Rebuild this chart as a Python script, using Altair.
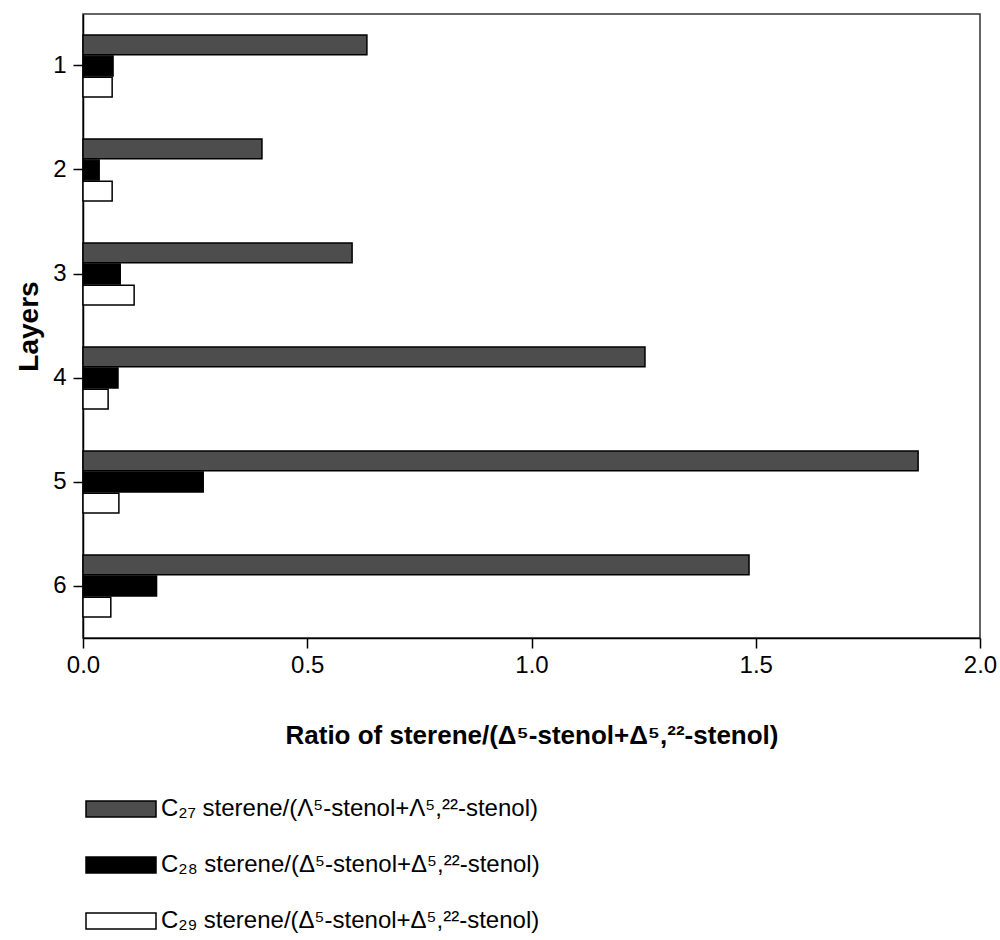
import altair as alt
import pandas as pd

# Layers on the vertical axis, top to bottom
layers = ["1", "2", "3", "4", "5", "6"]

# Series names (legend labels)
series = [
    "C₂₇ sterene/(Λ⁵-stenol+Λ⁵,²²-stenol)",
    "C₂₈ sterene/(Δ⁵-stenol+Δ⁵,²²-stenol)",
    "C₂₉ sterene/(Δ⁵-stenol+Δ⁵,²²-stenol)",
]

# Ratio values per layer
c27 = [0.633, 0.399, 0.600, 1.253, 1.862, 1.485]
c28 = [0.067, 0.036, 0.083, 0.078, 0.268, 0.164]
c29 = [0.065, 0.065, 0.114, 0.056, 0.080, 0.062]

fills = ["#4d4d4d", "#000000", "#ffffff"]
x_ticks = [0.0, 0.5, 1.0, 1.5, 2.0]

rows = []
for name, vals in zip(series, [c27, c28, c29]):
    for layer, v in zip(layers, vals):
        rows.append({"layer": layer, "series": name, "value": v})
df = pd.DataFrame(rows)

FONT = "Liberation Sans"

bars = alt.Chart(df).mark_bar(stroke="black", strokeWidth=1.5, cornerRadius=0).encode(
    x=alt.X(
        "value:Q",
        scale=alt.Scale(domain=[0, 2], nice=False, zero=True),
        axis=alt.Axis(
            values=x_ticks,
            format=".1f",
            grid=False,
            title="Ratio of sterene/(Δ⁵-stenol+Δ⁵,²²-stenol)",
            titleFontSize=26,
            titleFontWeight="bold",
            titlePadding=45,
            labelFontSize=24,
            labelPadding=5,
            labelFlush=False,
            tickSize=10,
        ),
    ),
    y=alt.Y(
        "layer:N",
        sort=layers,
        scale=alt.Scale(paddingInner=0.404, paddingOuter=0.202),
        axis=alt.Axis(
            title="Layers",
            titleFontSize=28,
            titleFontWeight="bold",
            titlePadding=9,
            labelFontSize=24,
            labelPadding=7,
            labelAngle=0,
            tickSize=10,
        ),
    ),
    yOffset=alt.YOffset("series:N", sort=series, scale=alt.Scale(paddingInner=0.06)),
    fill=alt.Fill(
        "series:N",
        sort=series,
        scale=alt.Scale(domain=series, range=fills),
        legend=alt.Legend(
            title=None,
            orient="none",
            legendX=2,
            legendY=759,
            direction="vertical",
            symbolType="M-1,-0.23H1V0.23H-1Z",
            symbolSize=4900,
            symbolStrokeColor="black",
            symbolStrokeWidth=1.5,
            labelFontSize=24,
            labelOffset=4,
            labelLimit=700,
            rowPadding=8,
            padding=0,
        ),
    ),
).properties(width=897, height=624)

chart = bars.properties(
    autosize=alt.AutoSizeParams(type="none"),
    padding={"left": 83, "top": 14, "right": 20, "bottom": 302},
).configure_view(
    stroke="#333333", strokeWidth=1.5
).configure_axis(
    labelFont=FONT,
    titleFont=FONT,
    labelColor="black",
    titleColor="black",
    domainColor="black",
    tickColor="black",
    domainWidth=1.5,
    tickWidth=1.5,
).configure_legend(
    labelFont=FONT,
    labelColor="black",
)

chart.save("out.html", embed_options={"renderer": "svg", "actions": False})
